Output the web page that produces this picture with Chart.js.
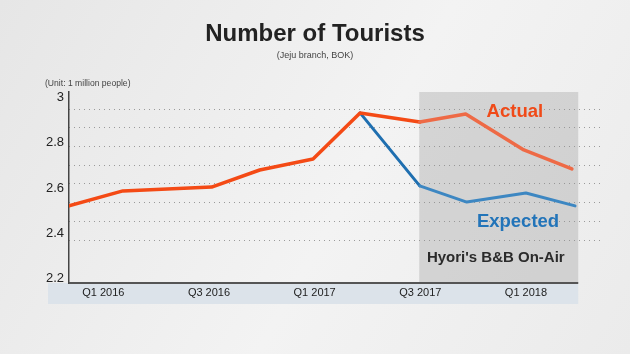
<!DOCTYPE html>
<html lang="en">
<head>
  <meta charset="UTF-8" />
  <title>Number of Tourists</title>
  <script src="https://cdn.jsdelivr.net/npm/chart.js"></script>
  <style>
    body {
      margin: 0;
      background: #efefef;
    }
    canvas {
      display: block;
    }
  </style>
</head>
<body>
  <canvas id="touristChart" width="630" height="354"></canvas>

  <script>
    // quarters counted from Q1 2016 = 0, values in million people
    const X_TICKS = [0, 2, 4, 6, 8];
    const X_TICK_LABELS = ['Q1 2016', 'Q3 2016', 'Q1 2017', 'Q3 2017', 'Q1 2018'];
    const Y_TICKS = [2.2, 2.4, 2.6, 2.8, 3];
    const Y_TICK_LABELS = ['2.2', '2.4', '2.6', '2.8', '3'];

    const ACTUAL_X = [-0.65, 0.37, 2.05, 2.96, 3.97, 4.86, 5.99, 6.86, 7.96, 8.87];
    const ACTUAL = [2.521, 2.587, 2.604, 2.679, 2.727, 2.930, 2.890, 2.925, 2.767, 2.684];
    const EXPECTED_X = [4.86, 5.99, 6.88, 8.0, 8.93];
    const EXPECTED = [2.930, 2.609, 2.538, 2.578, 2.521];

    // the "on-air" period
    const SHADE_START = 5.98;
    const SHADE_END = 8.99;

    const X_MIN = -0.65, X_MAX = 9.44;
    const Y_MIN = 2.182, Y_MAX = 3.022;
    const FONT = "'Liberation Sans', Arial, sans-serif";

    const toPoints = (xs, ys) => xs.map((x, i) => ({ x, y: ys[i] }));

    const inShade = (dark, light) => ctx => ctx.p0.parsed.x >= SHADE_START - 0.05 ? light : dark;

    const decor = {
      id: 'decor',
      beforeDraw(chart) {
        const { ctx, chartArea: a, scales: { x } } = chart;
        ctx.save();
        const g = ctx.createLinearGradient(0, 0, chart.width, chart.height);
        g.addColorStop(0, '#e6e6e6');
        g.addColorStop(0.55, '#f3f3f3');
        g.addColorStop(1, '#ebebeb');
        ctx.fillStyle = g;
        ctx.fillRect(0, 0, chart.width, chart.height);

        // band under the x axis
        const end = x.getPixelForValue(SHADE_END);
        ctx.fillStyle = '#dce3ea';
        ctx.fillRect(a.left - 21, a.bottom, end - a.left + 21, x.height);
        ctx.restore();
      },
      beforeDatasetsDraw(chart) {
        const { ctx, chartArea: a, scales: { x } } = chart;
        const x0 = x.getPixelForValue(SHADE_START);
        const x1 = x.getPixelForValue(SHADE_END);
        ctx.save();
        ctx.fillStyle = 'rgba(150,150,150,0.32)';
        ctx.fillRect(x0, a.top, x1 - x0, a.bottom - a.top);
        ctx.restore();
      },
      afterDatasetsDraw(chart) {
        const { ctx, chartArea: a, scales: { x, y } } = chart;
        ctx.save();

        // x axis line, stops where the band stops
        ctx.strokeStyle = '#555';
        ctx.lineWidth = 2;
        ctx.beginPath();
        ctx.moveTo(a.left, a.bottom);
        ctx.lineTo(x.getPixelForValue(SHADE_END), a.bottom);
        ctx.stroke();

        ctx.textBaseline = 'alphabetic';
        ctx.textAlign = 'center';
        ctx.font = 'bold 18.5px ' + FONT;
        ctx.fillStyle = '#f04a18';
        ctx.fillText('Actual', x.getPixelForValue(7.79), y.getPixelForValue(2.912));
        ctx.fillStyle = '#2274b9';
        ctx.fillText('Expected', x.getPixelForValue(7.85), y.getPixelForValue(2.429));
        ctx.font = 'bold 15px ' + FONT;
        ctx.fillStyle = '#2b2b2b';
        ctx.fillText("Hyori's B&B On-Air", x.getPixelForValue(7.43), y.getPixelForValue(2.275));

        ctx.textAlign = 'left';
        ctx.textBaseline = 'middle';
        ctx.font = '8.6px ' + FONT;
        ctx.fillStyle = '#444';
        ctx.fillText('(Unit: 1 million people)', a.left - 24, a.top - 8);
        ctx.restore();
      }
    };

    new Chart(document.getElementById('touristChart'), {
      type: 'line',
      data: {
        datasets: [{
          label: 'Actual',
          data: toPoints(ACTUAL_X, ACTUAL),
          borderColor: '#f44a15',
          borderWidth: 3.5,
          segment: { borderColor: inShade('#f44a15', '#ee6a46') }
        }, {
          label: 'Expected',
          data: toPoints(EXPECTED_X, EXPECTED),
          borderColor: '#1f6fb0',
          borderWidth: 3,
          segment: { borderColor: inShade('#1f6fb0', '#3d87c2') }
        }]
      },
      options: {
        responsive: false,
        animation: false,
        parsing: false,
        elements: {
          point: { radius: 0 },
          line: { tension: 0, borderCapStyle: 'round', borderJoinStyle: 'round' }
        },
        layout: { padding: { left: 0, right: 0, top: 0, bottom: 50 } },
        plugins: {
          legend: { display: false },
          tooltip: { enabled: false },
          title: {
            display: true,
            text: 'Number of Tourists',
            color: '#222',
            font: { family: FONT, size: 24, weight: 'bold' },
            padding: { top: 20, bottom: 0 }
          },
          subtitle: {
            display: true,
            text: '(Jeju branch, BOK)',
            color: '#444',
            font: { family: FONT, size: 9 },
            padding: { top: 1, bottom: 31.4 }
          }
        },
        scales: {
          x: {
            type: 'linear',
            min: X_MIN,
            max: X_MAX,
            afterBuildTicks: s => { s.ticks = X_TICKS.map(v => ({ value: v })); },
            afterFit: s => { s.height = 21; },
            grid: { display: false, drawTicks: false },
            border: { display: false },
            ticks: {
              padding: 3.5,
              maxRotation: 0,
              color: '#222',
              font: { family: FONT, size: 11 },
              callback: (v, i) => X_TICK_LABELS[i]
            }
          },
          y: {
            min: Y_MIN,
            max: Y_MAX,
            afterBuildTicks: s => { s.ticks = Y_TICKS.map(v => ({ value: v })); },
            afterFit: s => { s.width = 69; },
            grid: { display: false, drawTicks: false },
            border: { display: true, color: '#444', width: 1.5 },
            ticks: {
              padding: 5,
              color: '#222',
              font: { family: FONT, size: 13 },
              callback: (v, i) => Y_TICK_LABELS[i]
            }
          },
          // dotted guide lines, spaced on their own grid; this axis also
          // holds the empty margin on the right
          g: {
            position: 'right',
            min: -2.3,
            max: 7.92,
            afterBuildTicks: s => { s.ticks = [0, 1, 2, 3, 4, 5, 6, 7].map(v => ({ value: v })); },
            afterFit: s => { s.width = 28; },
            ticks: { display: false },
            grid: {
              drawTicks: false,
              color: '#9a9a9a',
              lineWidth: 1
            },
            border: { display: false, dash: [1, 4] }
          }
        }
      },
      plugins: [decor]
    });
  </script>
</body>
</html>
